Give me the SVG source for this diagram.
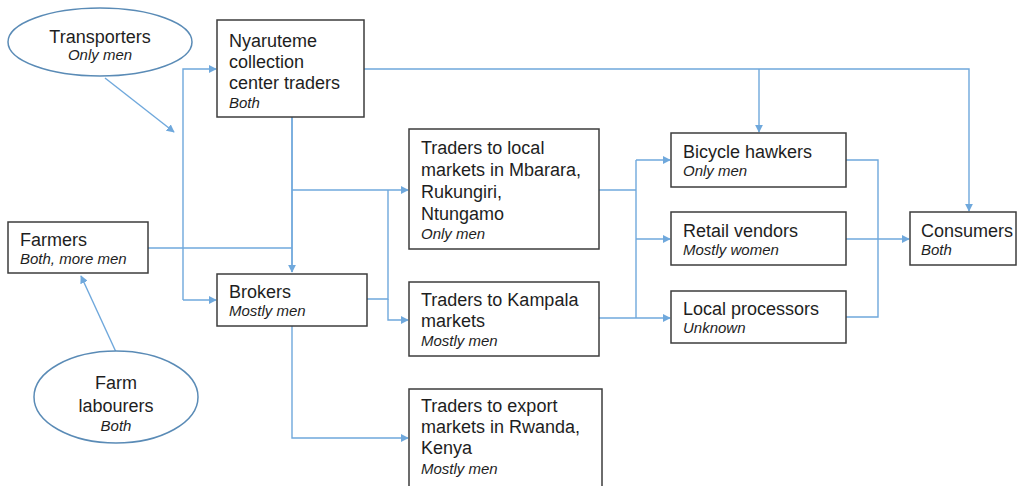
<svg xmlns="http://www.w3.org/2000/svg" width="1020" height="486" viewBox="0 0 1020 486">
<style>
.box{fill:#fff;stroke:#3d3d3d;stroke-width:1.5}
.ell{fill:#fff;stroke:#5a8bb6;stroke-width:1.5}
.t{font-family:"Liberation Sans",Arial,sans-serif;font-size:18px;fill:#1e1e1e}
.s{font-family:"Liberation Sans",Arial,sans-serif;font-size:15px;font-style:italic;fill:#1e1e1e}
.c{fill:none;stroke:#6fa8dc;stroke-width:1.4}
</style>
<defs>
<marker id="ah" viewBox="0 0 10 10" refX="9" refY="5" markerWidth="8" markerHeight="8" markerUnits="userSpaceOnUse" orient="auto">
<path d="M0,0 L10,5 L0,10 Z" fill="#6fa8dc"/>
</marker>
</defs>
<rect width="1020" height="486" fill="#fff"/>
<g id="connectors">
<line class="c" x1="105" y1="78" x2="174" y2="132" marker-end="url(#ah)"/>
<line class="c" x1="116" y1="352" x2="81" y2="276" marker-end="url(#ah)"/>
<path class="c" d="M183,300 V69 H216" marker-end="url(#ah)"/>
<path class="c" d="M183,300 H216" marker-end="url(#ah)"/>
<path class="c" d="M292,117 V272" marker-end="url(#ah)" style="stroke-width:1.8"/>
<path class="c" d="M148,248 H292"/>
<path class="c" d="M292,190 H408" marker-end="url(#ah)"/>
<path class="c" d="M367,299 H388 V190"/>
<path class="c" d="M388,299 V320 H408" marker-end="url(#ah)"/>
<path class="c" d="M292,326 V438 H408" marker-end="url(#ah)"/>
<path class="c" d="M364,69 H969 V211" marker-end="url(#ah)"/>
<path class="c" d="M759,69 V132" marker-end="url(#ah)"/>
<path class="c" d="M599,190 H636"/>
<path class="c" d="M636,160 V318"/>
<path class="c" d="M599,318 H670" marker-end="url(#ah)"/>
<path class="c" d="M636,160 H670" marker-end="url(#ah)"/>
<path class="c" d="M636,239 H670" marker-end="url(#ah)"/>
<path class="c" d="M846,160 H878 V317 H846"/>
<path class="c" d="M846,239 H909" marker-end="url(#ah)"/>
</g>
<g id="transporters">
<ellipse class="ell" cx="100" cy="42" rx="92" ry="34"/>
<text class="t" x="100" y="43" text-anchor="middle">Transporters</text>
<text class="s" x="100" y="60" text-anchor="middle">Only men</text>
</g>
<g id="farm-labourers">
<ellipse class="ell" cx="116" cy="397" rx="82" ry="46"/>
<text class="t" x="116" y="389" text-anchor="middle">Farm</text>
<text class="t" x="116" y="412" text-anchor="middle">labourers</text>
<text class="s" x="116" y="431" text-anchor="middle">Both</text>
</g>
<g id="nyaruteme">
<rect class="box" x="217" y="20" width="147" height="97"/>
<text class="t" x="229" y="47">Nyaruteme</text>
<text class="t" x="229" y="68">collection</text>
<text class="t" x="229" y="89">center traders</text>
<text class="s" x="229" y="108">Both</text>
</g>
<g id="farmers">
<rect class="box" x="8" y="222" width="140" height="51"/>
<text class="t" x="20" y="246">Farmers</text>
<text class="s" x="20" y="264">Both, more men</text>
</g>
<g id="brokers">
<rect class="box" x="217" y="274" width="150" height="52"/>
<text class="t" x="229" y="298">Brokers</text>
<text class="s" x="229" y="316">Mostly men</text>
</g>
<g id="traders-local">
<rect class="box" x="409" y="129" width="190" height="120"/>
<text class="t" x="421" y="154">Traders to local</text>
<text class="t" x="421" y="176">markets in Mbarara,</text>
<text class="t" x="421" y="198">Rukungiri,</text>
<text class="t" x="421" y="220">Ntungamo</text>
<text class="s" x="421" y="239">Only men</text>
</g>
<g id="traders-kampala">
<rect class="box" x="409" y="282" width="190" height="74"/>
<text class="t" x="421" y="306">Traders to Kampala</text>
<text class="t" x="421" y="327">markets</text>
<text class="s" x="421" y="346">Mostly men</text>
</g>
<g id="traders-export">
<rect class="box" x="409" y="389" width="193" height="100"/>
<text class="t" x="421" y="412">Traders to export</text>
<text class="t" x="421" y="433">markets in Rwanda,</text>
<text class="t" x="421" y="454">Kenya</text>
<text class="s" x="421" y="474">Mostly men</text>
</g>
<g id="bicycle-hawkers">
<rect class="box" x="671" y="133" width="175" height="54"/>
<text class="t" x="683" y="158">Bicycle hawkers</text>
<text class="s" x="683" y="176">Only men</text>
</g>
<g id="retail-vendors">
<rect class="box" x="671" y="212" width="175" height="53"/>
<text class="t" x="683" y="237">Retail vendors</text>
<text class="s" x="683" y="255">Mostly women</text>
</g>
<g id="local-processors">
<rect class="box" x="671" y="291" width="175" height="52"/>
<text class="t" x="683" y="315">Local processors</text>
<text class="s" x="683" y="333">Unknown</text>
</g>
<g id="consumers">
<rect class="box" x="910" y="212" width="106" height="53"/>
<text class="t" x="921" y="237">Consumers</text>
<text class="s" x="921" y="255">Both</text>
</g>
</svg>
